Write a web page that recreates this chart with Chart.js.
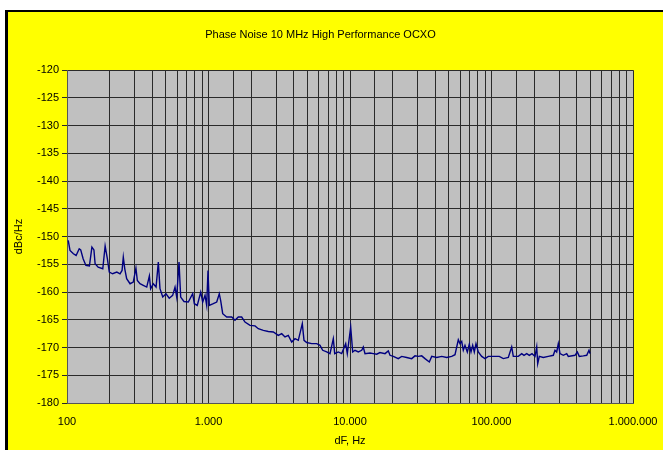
<!DOCTYPE html>
<html>
<head>
<meta charset="utf-8">
<title>Phase Noise 10 MHz High Performance OCXO</title>
<script src="https://cdn.jsdelivr.net/npm/chart.js@4.4.0/dist/chart.umd.min.js"></script>
<style>
  html, body { margin: 0; padding: 0; background: #fff; overflow: hidden; }
  #frame {
    position: absolute; left: 5px; top: 10px; width: 655px; height: 438px;
    background: #ffff00; border-left: 3px solid #000; border-top: 2px solid #000;
  }
  #wrap { position: absolute; left: 0; top: 0; width: 663px; height: 450px; overflow: hidden; }
</style>
</head>
<body>
<div id="frame"></div>
<div id="wrap"><canvas id="chart" width="700" height="450"></canvas></div>
<script>
// Offset frequency (Hz)
const freqHz = [
  102, 105, 111, 116, 122, 125, 130, 136, 144, 150,
  155, 158, 166, 179, 186, 193, 199, 210, 225, 237,
  245, 250, 256, 264, 279, 294, 307, 314, 328, 346,
  366, 382, 390, 407, 426, 442, 454, 475, 501, 528,
  558, 580, 596, 619, 636, 671, 720, 773, 794, 833,
  881, 910, 945, 971, 992, 1013, 1081, 1143, 1192, 1220,
  1260, 1345, 1459, 1539, 1624, 1716, 1811, 1965, 2131, 2249,
  2440, 2646, 2871, 3114, 3291, 3472, 3664, 3873, 4087, 4312,
  4602, 4731, 4943, 5362, 5818, 6138, 6414, 6843, 7222, 7621,
  7797, 8267, 8737, 9325, 9570, 10113, 10449, 10847, 11448, 12097,
  12416, 12765, 13845, 14609, 15441, 16293, 17673, 18648, 19170, 20230,
  21940, 23190, 25160, 27290, 28800, 30390, 32120, 33880, 36350, 37800,
  41000, 44480, 48240, 52330, 55210, 58270, 59900, 61580, 63200, 64960,
  67450, 69680, 71630, 73640, 75580, 77700, 80660, 85250, 89980, 94930,
  105850, 113530, 121150, 131440, 138900, 142600, 154700, 163500, 169700, 177400,
  185000, 193300, 203000, 208700, 212100, 217700, 232300, 252000, 273400, 281000,
  288900, 296600, 304900, 321700, 340000, 349000, 389000, 404000, 417300, 445600,
  470900, 488700, 496700
];

// Phase noise (dBc/Hz)
const noiseDbc = [
  -150.7, -152.5, -153.1, -153.4, -152.2, -152.4, -154.0, -155.2, -155.3, -151.9,
  -152.4, -154.9, -155.5, -155.8, -151.7, -154.0, -156.4, -156.7, -156.4, -156.7,
  -156.1, -153.7, -155.8, -157.6, -158.5, -158.2, -155.7, -157.9, -158.5, -158.8,
  -159.1, -157.1, -159.4, -158.5, -159.1, -154.6, -159.4, -160.9, -160.3, -161.1,
  -160.6, -159.1, -160.9, -154.6, -160.9, -161.7, -161.8, -160.3, -162.1, -162.4,
  -160.0, -161.8, -160.6, -162.4, -156.1, -162.4, -162.1, -161.8, -160.3, -161.6,
  -163.9, -164.5, -164.5, -165.1, -164.5, -164.5, -165.4, -166.0, -166.1, -166.6,
  -166.9, -167.1, -167.2, -167.8, -167.5, -168.1, -167.8, -169.0, -168.4, -168.7,
  -165.7, -168.7, -169.1, -169.3, -169.3, -169.6, -170.5, -170.8, -171.1, -168.4,
  -171.1, -170.8, -171.1, -169.3, -171.1, -166.3, -170.8, -170.5, -170.8, -170.5,
  -169.9, -171.1, -171.0, -171.1, -171.2, -170.9, -171.1, -170.6, -171.4, -171.6,
  -172.0, -171.6, -171.8, -172.0, -171.5, -171.6, -171.5, -172.0, -172.6, -171.6,
  -171.8, -171.6, -171.8, -171.6, -171.3, -168.6, -169.3, -168.9, -170.5, -169.6,
  -170.8, -169.4, -170.8, -169.6, -170.8, -169.3, -170.8, -171.6, -172.0, -171.6,
  -171.6, -171.6, -172.0, -171.8, -169.9, -171.6, -171.6, -171.1, -171.4, -171.1,
  -171.4, -171.1, -171.6, -169.9, -172.9, -171.6, -171.8, -171.6, -171.4, -170.5,
  -170.8, -169.3, -171.1, -171.4, -171.1, -171.6, -171.4, -170.8, -171.6, -171.5,
  -171.4, -170.5, -171.1
];

const xMin = 100, xMax = 1000000;
const yMin = -180, yMax = -120, yStep = 5;

const FONT = "'Liberation Sans', Arial, sans-serif";

// 1000 -> "1.000"
function fmtDots(v) {
  return String(Math.round(v)).replace(/\B(?=(\d{3})+(?!\d))/g, ".");
}

function isDecade(v) {
  const l = Math.log10(v);
  return Math.abs(l - Math.round(l)) < 1e-9;
}

// grey plot area
const plotBg = {
  id: "plotBg",
  beforeDraw(chart) {
    const a = chart.chartArea, ctx = chart.ctx;
    ctx.save();
    ctx.fillStyle = "#c0c0c0";
    ctx.fillRect(a.left, a.top, a.right - a.left, a.bottom - a.top);
    ctx.restore();
  }
};

new Chart(document.getElementById("chart"), {
  type: "line",
  data: {
    datasets: [{
      data: freqHz.map((f, i) => ({ x: f, y: noiseDbc[i] })),
      borderColor: "#000080",
      borderWidth: 1.4,
      pointRadius: 0,
      tension: 0,
      fill: false
    }]
  },
  options: {
    responsive: false,
    animation: false,
    layout: { padding: { left: 8, right: 67, top: 0, bottom: 0 } },
    plugins: {
      legend: { display: false },
      tooltip: { enabled: false },
      title: {
        display: true,
        text: "Phase Noise 10 MHz High Performance OCXO",
        color: "#000",
        font: { family: FONT, size: 11, weight: "normal" },
        padding: { top: 28, bottom: 29 }
      }
    },
    scales: {
      x: {
        type: "logarithmic",
        min: xMin,
        max: xMax,
        grid: { color: "#2a2a2a", lineWidth: 1, drawTicks: false },
        border: { display: true, color: "#555" },
        ticks: {
          autoSkip: false,
          maxRotation: 0,
          color: "#000",
          padding: 12,
          font: { family: FONT, size: 11 },
          callback: v => isDecade(v) ? fmtDots(v) : ""
        },
        title: {
          display: true,
          text: "dF, Hz",
          color: "#000",
          font: { family: FONT, size: 11 },
          padding: { top: 0, bottom: 2 }
        },
        afterFit(scale) { scale.height = 47; }
      },
      y: {
        min: yMin,
        max: yMax,
        grid: { color: "#2a2a2a", lineWidth: 1, tickLength: 5 },
        border: { display: true, color: "#555" },
        ticks: {
          stepSize: yStep,
          color: "#000",
          padding: 3,
          font: { family: FONT, size: 11 }
        },
        title: {
          display: true,
          text: "dBc/Hz",
          color: "#000",
          font: { family: FONT, size: 11 },
          padding: { top: 4, bottom: 2 }
        },
        afterFit(scale) { scale.width = 59; }
      }
    }
  },
  plugins: [plotBg]
});
</script>
</body>
</html>
